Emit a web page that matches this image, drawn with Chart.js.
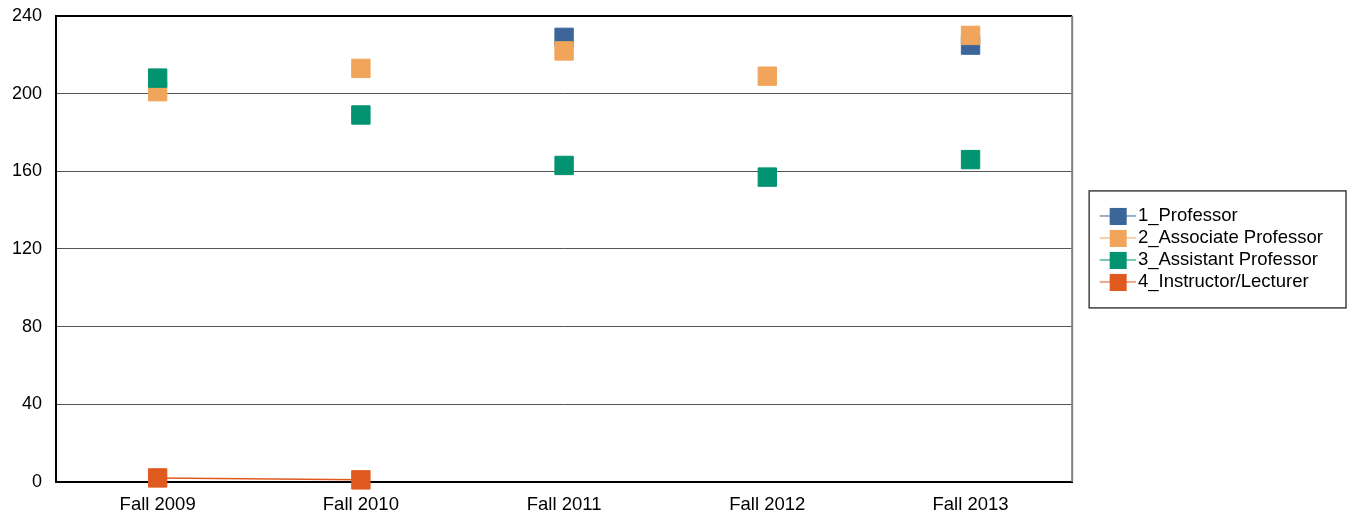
<!DOCTYPE html>
<html>
<head>
<meta charset="utf-8">
<title>Faculty by Rank</title>
<script src="https://cdn.jsdelivr.net/npm/chart.js@4.4.1/dist/chart.umd.min.js"></script>
<style>
  html, body { margin: 0; padding: 0; background: #fff; }
  #wrap { width: 1356px; height: 517px; }
</style>
</head>
<body>
<div id="wrap"><canvas id="rankChart" width="1356" height="517"></canvas></div>
<script>
// Chart data
const terms = ["Fall 2009", "Fall 2010", "Fall 2011", "Fall 2012", "Fall 2013"];
const professor = [null, null, 229, null, 225];
const associateProf = [201, 213, 222, 209, 230];
const assistantProf = [208, 189, 163, 157, 166];
const instructor = [2, 1, null, null, null];
const yTicks = [0, 40, 80, 120, 160, 200, 240];

const seriesNames = ["1_Professor", "2_Associate Professor", "3_Assistant Professor", "4_Instructor/Lecturer"];
const seriesColors = ["#3c669a", "#f1a55a", "#029370", "#df5a1f"];
const FONT = "'Liberation Sans', Arial, sans-serif";

// legend sample: thin line with a square in it
function makeLegendIcon(color) {
  const c = document.createElement("canvas");
  c.width = 67;
  c.height = 18;
  const g = c.getContext("2d");
  g.globalAlpha = 0.7;
  g.strokeStyle = color;
  g.lineWidth = 1.5;
  g.beginPath();
  g.moveTo(31, 9);
  g.lineTo(67, 9);
  g.stroke();
  g.globalAlpha = 1;
  g.fillStyle = color;
  g.fillRect(41, 1, 17, 17);
  return c;
}
const legendIcons = seriesColors.map(makeLegendIcon);

// box round the legend and the grey right edge of the plot
const framePlugin = {
  id: "frame",
  afterDraw(chart) {
    const ctx = chart.ctx;
    const area = chart.chartArea;
    ctx.save();
    ctx.strokeStyle = "#808080";
    ctx.lineWidth = 2;
    ctx.beginPath();
    ctx.moveTo(area.right, area.top);
    ctx.lineTo(area.right, area.bottom);
    ctx.stroke();

    const hb = chart.legend.legendHitBoxes;
    if (hb && hb.length) {
      const first = hb[0];
      const last = hb[hb.length - 1];
      const top = first.top + first.height / 2 - 25;
      const bottom = last.top + last.height / 2 + 26;
      const left = area.right + 17;
      const right = chart.width - 10;
      ctx.strokeStyle = "#404040";
      ctx.lineWidth = 1.5;
      ctx.strokeRect(left, top, right - left, bottom - top);
    }
    ctx.restore();
  }
};

document.addEventListener("DOMContentLoaded", function () {
  const ctx = document.getElementById("rankChart").getContext("2d");
  const values = [professor, associateProf, assistantProf, instructor];

  const datasets = values.map((data, i) => ({
    label: seriesNames[i],
    data: data,
    borderColor: seriesColors[i],
    backgroundColor: seriesColors[i],
    borderWidth: 1.5,
    showLine: i === 3,
    pointStyle: "rect",
    pointRadius: 13,
    pointHoverRadius: 13,
    pointBorderWidth: 1,
    spanGaps: false,
    clip: false,
    order: 4 - i
  }));

  new Chart(ctx, {
    type: "line",
    data: { labels: terms, datasets: datasets },
    options: {
      responsive: false,
      animation: false,
      layout: { autoPadding: false, padding: { left: -2, right: 23, top: 16, bottom: -11 } },
      plugins: {
        tooltip: { enabled: false },
        legend: {
          position: "right",
          fullSize: false,
          reverse: true,
          labels: {
            usePointStyle: true,
            pointStyleWidth: 53,
            padding: 3.5,
            color: "#000",
            font: { family: FONT, size: 18.5 },
            generateLabels: function (chart) {
              const items = Chart.defaults.plugins.legend.labels.generateLabels(chart);
              items.forEach(it => { it.pointStyle = legendIcons[it.datasetIndex]; });
              return items;
            }
          }
        }
      },
      scales: {
        x: {
          offset: true,
          grid: { display: false, drawTicks: false },
          border: { display: true, color: "#000", width: 2 },
          ticks: { color: "#000", padding: 12, font: { family: FONT, size: 18.5 } }
        },
        y: {
          min: 0,
          max: 240,
          afterBuildTicks: function (axis) {
            axis.ticks = yTicks.map(v => ({ value: v }));
          },
          afterFit: function (axis) {
            // let the top tick label hang above the plot
            axis.paddingTop = 0;
            axis.paddingBottom = 0;
          },
          grid: {
            drawTicks: false,
            color: c => (c.tick && (c.tick.value === 240 || c.tick.value === 0)) ? "#000" : "#555",
            lineWidth: c => (c.tick && (c.tick.value === 240 || c.tick.value === 0)) ? 2 : 1
          },
          border: { display: true, color: "#000", width: 2 },
          ticks: { color: "#000", padding: 14, font: { family: FONT, size: 18 } }
        }
      }
    },
    plugins: [framePlugin]
  });
});
</script>
</body>
</html>
